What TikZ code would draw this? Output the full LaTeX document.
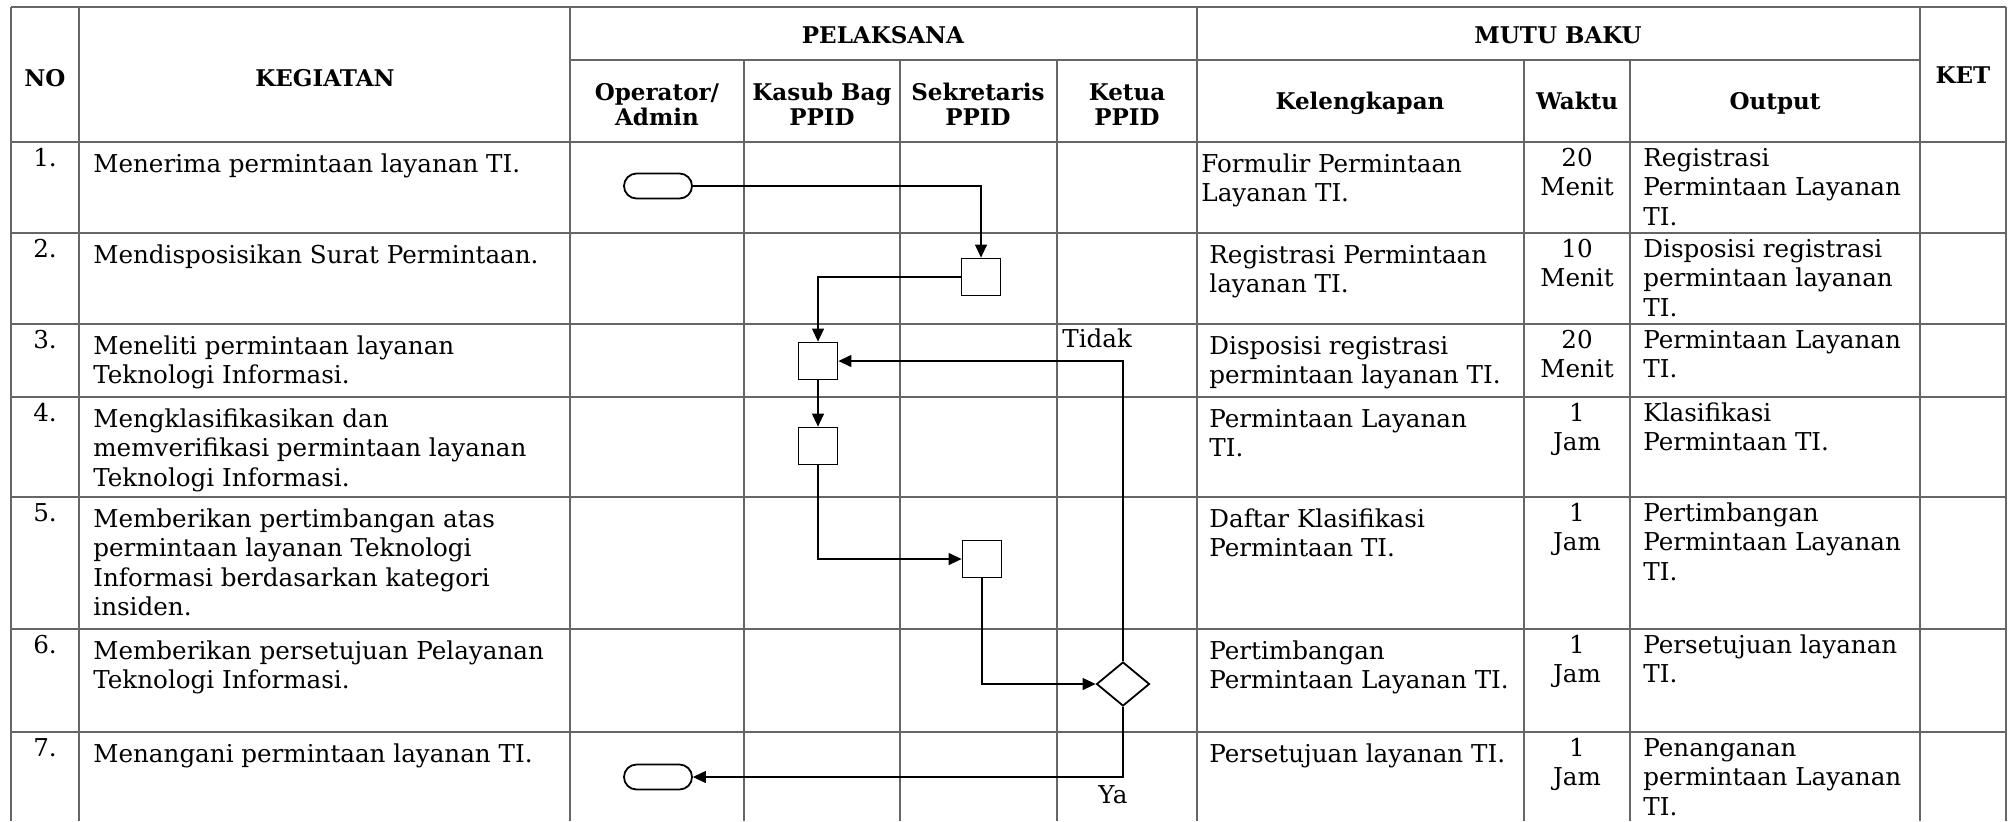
\documentclass[tikz,border=0pt]{standalone}
\usepackage{fontspec}
\setmainfont{DejaVu Serif}
\usepackage{tikz}
\usetikzlibrary{arrows.meta, shapes.geometric}
% multi-line cell text, baseline at the first line
\newcommand{\lcell}[1]{\begin{tabular}[t]{@{}l@{}}#1\end{tabular}}
\newcommand{\ccell}[1]{\begin{tabular}[t]{@{}c@{}}#1\end{tabular}}

\begin{document}
\begin{tikzpicture}[x=0.5pt, y=-0.5pt,
  grid/.style={black!60, line width=1pt},
  hd/.style={font=\fontsize{11.5}{12.6}\selectfont\bfseries, anchor=base, inner sep=0pt},
  cell/.style={font=\fontsize{12.3}{14.75}\selectfont, anchor=base west, inner sep=0pt},
  mid/.style={font=\fontsize{12.3}{14.75}\selectfont, anchor=base, inner sep=0pt},
  proc/.style={draw, line width=0.9pt, minimum width=19.5pt, minimum height=18.5pt, inner sep=0pt},
  term/.style={draw, line width=0.9pt, rounded corners=6.25pt, minimum width=34pt, minimum height=12.5pt, inner sep=0pt},
  dec/.style={draw, diamond, line width=0.9pt, minimum width=26.5pt, minimum height=22pt, inner sep=0pt},
  flow/.style={line width=0.6pt, -{Triangle[length=6.5pt, width=6pt]}}]
\useasboundingbox (0,0) rectangle (2011,821);

% Table grid
\draw[grid] (11,7) -- (2006,7);
\draw[grid] (570,60) -- (1920,60);
\draw[grid] (11,142) -- (2006,142);
\draw[grid] (11,233) -- (2006,233);
\draw[grid] (11,324) -- (2006,324);
\draw[grid] (11,397) -- (2006,397);
\draw[grid] (11,497) -- (2006,497);
\draw[grid] (11,629) -- (2006,629);
\draw[grid] (11,732) -- (2006,732);
\draw[grid] (11,7) -- (11,821);
\draw[grid] (79,7) -- (79,821);
\draw[grid] (570,7) -- (570,821);
\draw[grid] (744,60) -- (744,821);
\draw[grid] (900,60) -- (900,821);
\draw[grid] (1057,60) -- (1057,821);
\draw[grid] (1197,7) -- (1197,821);
\draw[grid] (1524,60) -- (1524,821);
\draw[grid] (1630,60) -- (1630,821);
\draw[grid] (1920,7) -- (1920,821);
\draw[grid] (2006,7) -- (2006,821);

% Header
\node[hd] (hNo) at (45,86) {NO};
\node[hd] (hKeg) at (325,86) {KEGIATAN};
\node[hd] (hPel) at (883,43) {PELAKSANA};
\node[hd] (hMutu) at (1558,43) {MUTU BAKU};
\node[hd] (hKet) at (1963,83) {KET};
\node[hd] (hOp) at (657,100) {\ccell{Operator/\\Admin}};
\node[hd] (hKasub) at (822,100) {\ccell{Kasub Bag\\PPID}};
\node[hd] (hSekr) at (978,100) {\ccell{Sekretaris\\PPID}};
\node[hd] (hKetua) at (1127,100) {\ccell{Ketua\\PPID}};
\node[hd] (hKel) at (1360,109) {Kelengkapan};
\node[hd] (hWkt) at (1577,109) {Waktu};
\node[hd] (hOut) at (1775,109) {Output};

% Row 1
\node[mid] (no1) at (45,166) {1.};
\node[cell] (keg1) at (93,172) {Menerima permintaan layanan TI.};
\node[cell] (kel1) at (1201,172) {\lcell{Formulir Permintaan\\Layanan TI.}};
\node[mid] (wkt1) at (1577,166) {\ccell{20\\Menit}};
\node[cell] (out1) at (1643,166) {\lcell{Registrasi\\Permintaan Layanan\\TI.}};

% Row 2
\node[mid] (no2) at (45,257) {2.};
\node[cell] (keg2) at (93,263) {Mendisposisikan Surat Permintaan.};
\node[cell] (kel2) at (1209,263) {\lcell{Registrasi Permintaan\\layanan TI.}};
\node[mid] (wkt2) at (1577,257) {\ccell{10\\Menit}};
\node[cell] (out2) at (1643,257) {\lcell{Disposisi registrasi\\permintaan layanan\\TI.}};

% Row 3
\node[mid] (no3) at (45,348) {3.};
\node[cell] (keg3) at (93,354) {\lcell{Meneliti permintaan layanan\\Teknologi Informasi.}};
\node[cell] (kel3) at (1209,354) {\lcell{Disposisi registrasi\\permintaan layanan TI.}};
\node[mid] (wkt3) at (1577,348) {\ccell{20\\Menit}};
\node[cell] (out3) at (1643,348) {\lcell{Permintaan Layanan\\TI.}};

% Row 4
\node[mid] (no4) at (45,421) {4.};
\node[cell] (keg4) at (93,427) {\lcell{Mengklasifikasikan dan\\memverifikasi permintaan layanan\\Teknologi Informasi.}};
\node[cell] (kel4) at (1209,427) {\lcell{Permintaan Layanan\\TI.}};
\node[mid] (wkt4) at (1577,421) {\ccell{1\\Jam}};
\node[cell] (out4) at (1643,421) {\lcell{Klasifikasi\\Permintaan TI.}};

% Row 5
\node[mid] (no5) at (45,521) {5.};
\node[cell] (keg5) at (93,527) {\lcell{Memberikan pertimbangan atas\\permintaan layanan Teknologi\\Informasi berdasarkan kategori\\insiden.}};
\node[cell] (kel5) at (1209,527) {\lcell{Daftar Klasifikasi\\Permintaan TI.}};
\node[mid] (wkt5) at (1577,521) {\ccell{1\\Jam}};
\node[cell] (out5) at (1643,521) {\lcell{Pertimbangan\\Permintaan Layanan\\TI.}};

% Row 6
\node[mid] (no6) at (45,653) {6.};
\node[cell] (keg6) at (93,659) {\lcell{Memberikan persetujuan Pelayanan\\Teknologi Informasi.}};
\node[cell] (kel6) at (1209,659) {\lcell{Pertimbangan\\Permintaan Layanan TI.}};
\node[mid] (wkt6) at (1577,653) {\ccell{1\\Jam}};
\node[cell] (out6) at (1643,653) {\lcell{Persetujuan layanan\\TI.}};

% Row 7
\node[mid] (no7) at (45,756) {7.};
\node[cell] (keg7) at (93,762) {Menangani permintaan layanan TI.};
\node[cell] (kel7) at (1209,762) {Persetujuan layanan TI.};
\node[mid] (wkt7) at (1577,756) {\ccell{1\\Jam}};
\node[cell] (out7) at (1643,756) {\lcell{Penanganan\\permintaan Layanan\\TI.}};

% Flow symbols
\node[term] (t1) at (658,186) {};
\node[proc] (b2) at (981,277) {};
\node[proc] (b3) at (818,361) {};
\node[proc] (b4) at (818,446) {};
\node[proc] (b5) at (982,559) {};
\node[dec] (d6) at (1123,684) {};
\node[term] (t7) at (658,777) {};

% Connectors
\draw[flow] (t1) -| (b2);
\draw[flow] (b2) -| (b3);
\draw[flow] (b3) -- (b4);
\draw[flow] (b4) |- (b5);
\draw[flow] (b5) |- (d6);
\draw[flow] (d6) |- (b3);
\draw[flow] (d6) |- (t7);
\node[cell] (tidak) at (1062,347) {Tidak};
\node[cell] (ya) at (1098,803) {Ya};
\end{tikzpicture}
\end{document}
